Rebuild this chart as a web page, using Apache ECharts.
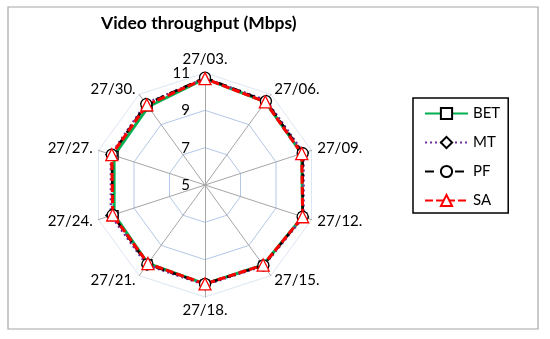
<!DOCTYPE html>
<html><head><meta charset="utf-8">
<script src="https://cdn.jsdelivr.net/npm/echarts@6/dist/echarts.min.js"></script>
<style>html,body{margin:0;padding:0;background:#fff}#c{width:550px;height:339px}</style>
</head><body><div id="c"></div>
<script>
const categories = ['27/03.', '27/06.', '27/09.', '27/12.', '27/15.', '27/18.', '27/21.', '27/24.', '27/27.', '27/30.'];
const tickValues = [5, 7, 9, 11];
const BET = [10.7, 10.5, 10.45, 10.5, 10.3, 10.3, 10.2, 10.12, 10.12, 10.18];
const MT  = [10.72, 10.6, 10.55, 10.55, 10.35, 10.35, 10.3, 10.3, 10.3, 10.4];
const PF  = [10.75, 10.55, 10.5, 10.5, 10.32, 10.3, 10.25, 10.2, 10.25, 10.35];
const SA  = [10.7, 10.5, 10.45, 10.5, 10.3, 10.3, 10.2, 10.2, 10.25, 10.3];

const FONT = 'Lato';
const axisMin = tickValues[0], axisMax = tickValues[tickValues.length - 1];
const step = tickValues[1] - tickValues[0];
// ECharts radar runs counter-clockwise; reorder so the dates run clockwise
const order = [0].concat(categories.map((_, i) => i).slice(1).reverse());
const reorder = arr => order.map(i => arr[i]);

const seriesDefs = [
  { name: 'BET', data: BET, color: '#00b050', type: 'solid', width: 3, symbol: 'rect', size: 8, stroke: '#000' },
  { name: 'MT', data: MT, color: '#7030a0', type: [2, 3], width: 2.5, symbol: 'diamond', size: 10, stroke: '#000' },
  { name: 'PF', data: PF, color: '#000000', type: [9, 6], width: 2.5, symbol: 'circle', size: 11, stroke: '#000' },
  { name: 'SA', data: SA, color: '#ff0000', type: [8, 3], width: 3, symbol: 'triangle', size: 12, stroke: '#ff0000' }
];

const radarSeries = seriesDefs.map(d => ({
  type: 'radar', name: d.name, z: 3,
  symbol: d.symbol, symbolSize: d.size,
  lineStyle: { color: d.color, width: d.width, type: d.type },
  itemStyle: { color: '#fff', borderColor: d.stroke, borderWidth: 1.3 },
  data: [{ name: d.name, value: reorder(d.data) }]
}));
const legendSeries = seriesDefs.map(d => ({
  type: 'line', name: d.name, xAxisIndex: 0, yAxisIndex: 0,
  symbol: d.symbol, symbolSize: d.size,
  lineStyle: { color: d.color, width: d.width, type: d.type },
  itemStyle: { color: '#fff', borderColor: d.stroke, borderWidth: 1.3 },
  data: []
}));

const chart = echarts.init(document.getElementById('c'));
chart.setOption({
  backgroundColor: '#fff',
  animation: false,
  textStyle: { fontFamily: FONT },
  graphic: [{ type: 'rect', shape: { x: 8, y: 7, width: 530, height: 322 }, style: { fill: 'none', stroke: '#a6a6a6', lineWidth: 1.2 }, silent: true }],
  title: { text: 'Video throughput (Mbps)', left: 96, top: 9, textStyle: { fontFamily: FONT, fontSize: 17.5, fontWeight: 'bold', color: '#000' } },
  legend: {
    orient: 'vertical', left: 413, top: 98,
    padding: [8, 8, 5, 11],
    itemWidth: 43, itemHeight: 14, itemGap: 14,
    borderColor: '#000', borderWidth: 1.5,
    textStyle: { fontFamily: FONT, fontSize: 15, color: '#000' },
    data: seriesDefs.map(d => d.name)
  },
  grid: { left: 205, top: 73, width: 10, height: 112 },
  xAxis: { type: 'value', show: false },
  yAxis: {
    type: 'value', min: axisMin, max: axisMax, interval: step,
    axisLine: { show: false }, axisTick: { show: false }, splitLine: { show: false },
    axisLabel: { margin: 15, fontFamily: FONT, fontSize: 15, color: '#000' }
  },
  radar: {
    center: [205, 185], radius: 112, shape: 'polygon',
    startAngle: 90,
    splitNumber: 3,
    indicator: reorder(categories).map(n => ({ name: n, min: axisMin, max: axisMax })),
    axisName: { color: '#000', fontFamily: FONT, fontSize: 15 },
    nameGap: 6,
    axisLine: { lineStyle: { color: '#a6a6a6', width: 1 } },
    splitLine: { lineStyle: { color: ['#b4c7e7', '#b4c7e7', '#b4c7e7', '#dde6f3'], width: 1 } },
    splitArea: { show: false },
    axisLabel: { show: false }
  },
  series: legendSeries.concat(radarSeries)
});
</script></body></html>
